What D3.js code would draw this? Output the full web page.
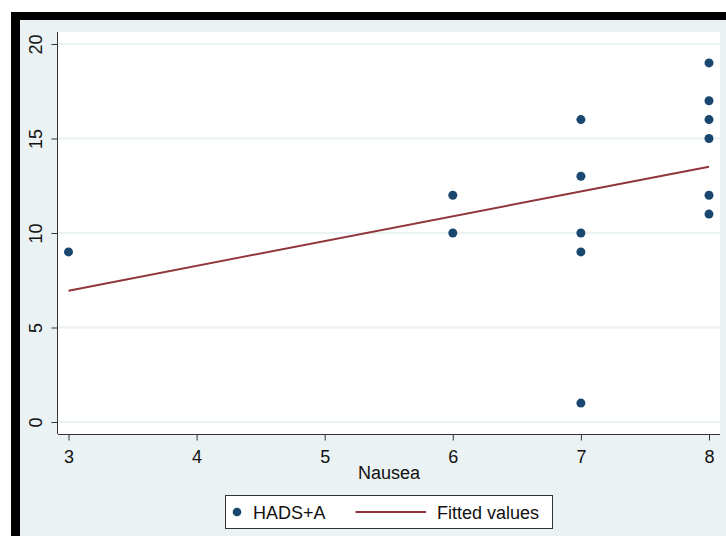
<!DOCTYPE html>
<html>
<head>
<meta charset="utf-8">
<script src="https://cdn.jsdelivr.net/npm/d3@7"></script>
<style>
  html, body { margin: 0; padding: 0; background: #ffffff; }
  svg { display: block; font-family: "Liberation Sans", Arial, Helvetica, sans-serif; }
</style>
</head>
<body>
<svg id="chart" width="726" height="536"></svg>
<script>
// Nausea score vs HADS anxiety score
const nausea = [3, 6, 6, 7, 7, 7, 7, 7, 8, 8, 8, 8, 8, 8];
const hadsA  = [9, 12, 10, 16, 13, 10, 9, 1, 19, 17, 16, 15, 12, 11];

// Linear fit, evaluated at the ends of the observed range
const fitX = [3, 8];
const fitY = [6.95, 13.51];

const xTicks = [3, 4, 5, 6, 7, 8];
const yTicks = [0, 5, 10, 15, 20];

const xTitle = "Nausea";
const legendLabels = ["HADS+A", "Fitted values"];

const navy = "#1a476f";
const maroon = "#90353b";
const regionBg = "#eaf2f3";
const gridCol = "#eaf2f3";
const axisCol = "#333333";
const textCol = "#111111";
const fontSize = 18;

const svg = d3.select("#chart");

// window frame and graph region
svg.append("rect").attr("x", 11).attr("y", 12).attr("width", 715).attr("height", 524).attr("fill", "#000");
svg.append("rect").attr("x", 20).attr("y", 20).attr("width", 706).attr("height", 516).attr("fill", regionBg);

const plot = { left: 58, right: 720, top: 32, bottom: 434 };
svg.append("rect")
  .attr("x", plot.left).attr("y", plot.top)
  .attr("width", plot.right - plot.left).attr("height", plot.bottom - plot.top)
  .attr("fill", "#ffffff");

const x = d3.scaleLinear().domain([3, 8]).range([68.5, 709]);
const y = d3.scaleLinear().domain([0, 20]).range([422, 44]);

// horizontal gridlines
svg.append("g").selectAll("line").data(yTicks).join("line")
  .attr("x1", plot.left).attr("x2", plot.right)
  .attr("y1", d => y(d)).attr("y2", d => y(d))
  .attr("stroke", gridCol).attr("stroke-width", 2);

// y axis, labels rotated to read bottom-to-top
const yAxis = svg.append("g").attr("transform", `translate(${plot.left - 0.5},0)`)
  .call(d3.axisLeft(y).tickValues(yTicks).tickSize(6).tickFormat(d3.format("d")));
yAxis.select(".domain").attr("d", `M0,${plot.top}V${plot.bottom}`).attr("stroke", axisCol);
yAxis.selectAll(".tick line").attr("stroke", axisCol);
yAxis.selectAll(".tick text")
  .attr("fill", textCol).attr("font-size", fontSize)
  .attr("transform", "rotate(-90)")
  .attr("x", 0).attr("y", -16).attr("dy", null)
  .attr("text-anchor", "middle");

// x axis
const xAxis = svg.append("g").attr("transform", `translate(0,${plot.bottom + 0.5})`)
  .call(d3.axisBottom(x).tickValues(xTicks).tickSize(6).tickFormat(d3.format("d")));
xAxis.select(".domain").attr("d", `M${plot.left},0H${plot.right}`).attr("stroke", axisCol);
xAxis.selectAll(".tick line").attr("stroke", axisCol);
xAxis.selectAll(".tick text").attr("fill", textCol).attr("font-size", fontSize)
  .attr("y", 28).attr("dy", null);

svg.append("text")
  .attr("x", (plot.left + plot.right) / 2).attr("y", 479)
  .attr("text-anchor", "middle").attr("font-size", fontSize).attr("fill", textCol)
  .text(xTitle);

// fitted line
const fitPts = fitX.map((d, i) => [d, fitY[i]]);
svg.append("path")
  .attr("d", d3.line().x(d => x(d[0])).y(d => y(d[1]))(fitPts))
  .attr("fill", "none").attr("stroke", maroon).attr("stroke-width", 2);

// observations
const pts = nausea.map((d, i) => [d, hadsA[i]]);
svg.append("g").selectAll("circle").data(pts).join("circle")
  .attr("cx", d => x(d[0])).attr("cy", d => y(d[1]))
  .attr("r", 4.5).attr("fill", navy);

// legend
const lg = svg.append("g");
lg.append("rect").attr("x", 225.5).attr("y", 495.5).attr("width", 327).attr("height", 33)
  .attr("fill", "#fff").attr("stroke", axisCol).attr("stroke-width", 1);
lg.append("circle").attr("cx", 237).attr("cy", 512).attr("r", 4.3).attr("fill", navy);
lg.append("text").attr("x", 253).attr("y", 519).attr("font-size", fontSize).attr("fill", textCol).text(legendLabels[0]);
lg.append("line").attr("x1", 355.5).attr("x2", 426).attr("y1", 512).attr("y2", 512)
  .attr("stroke", maroon).attr("stroke-width", 2);
lg.append("text").attr("x", 437).attr("y", 519).attr("font-size", fontSize).attr("fill", textCol).text(legendLabels[1]);
</script>
</body>
</html>
